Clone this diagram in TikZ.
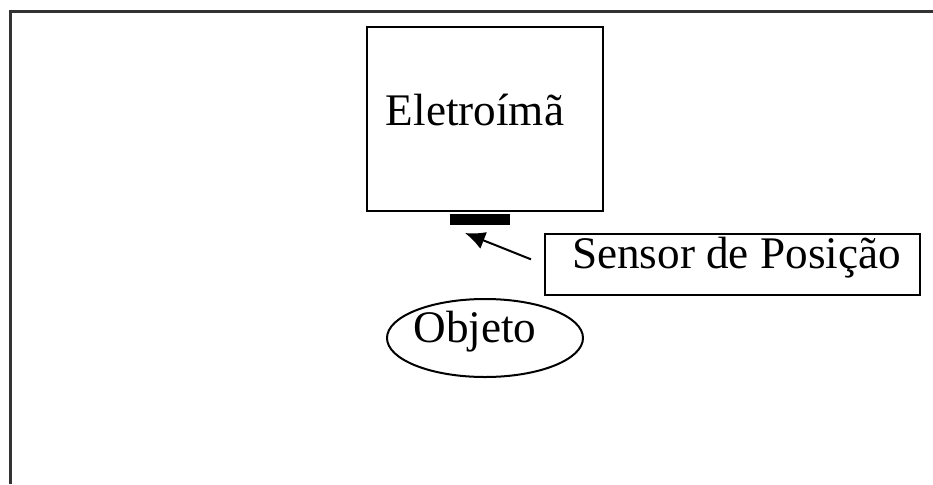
\documentclass[tikz,border=0pt]{standalone}
\usepackage{fontspec}
\setmainfont{Liberation Serif}
\usepackage{tikz}
\usetikzlibrary{shapes.geometric,arrows.meta}

\begin{document}
\begin{tikzpicture}[x=0.5pt,y=-0.5pt,
        box/.style={draw, line width=1pt, inner sep=0pt},
        txt/.style={inner sep=0pt, font=\fontsize{22.6}{27}\selectfont}]
        \useasboundingbox (0,0) rectangle (933,484);
        % outer frame
        \draw[line width=1.5pt, black!80] (10.5,484) -- (10.5,11) -- (933,11);

        \node[box, minimum width=118pt, minimum height=92pt] (magnet) at (485,119) {};
        \node[txt, xshift=-5pt, yshift=4.5pt] (magnettext) at (magnet) {Eletroímã};
        \node[fill=black, inner sep=0pt, minimum width=30pt, minimum height=5.5pt] (bar) at (480,219.5) {};

        \node[box, minimum width=187.5pt, minimum height=30.5pt] (sensor) at (732.5,264.5) {};
        \node[txt, xshift=2pt, yshift=3.5pt] (sensortext) at (sensor) {Sensor de Posição};

        \node[box, ellipse, minimum width=98pt, minimum height=39pt] (object) at (485,338) {};
        \node[txt, xshift=-5pt, yshift=3pt] (objecttext) at (object) {Objeto};

        % arrow to the sensor
        \coordinate (tip) at (465,233);
        \draw[-{Latex[length=10pt,width=9pt]}, line width=1pt, shorten <=7pt] (sensor.west) -- (tip);
    \end{tikzpicture}
\end{document}
